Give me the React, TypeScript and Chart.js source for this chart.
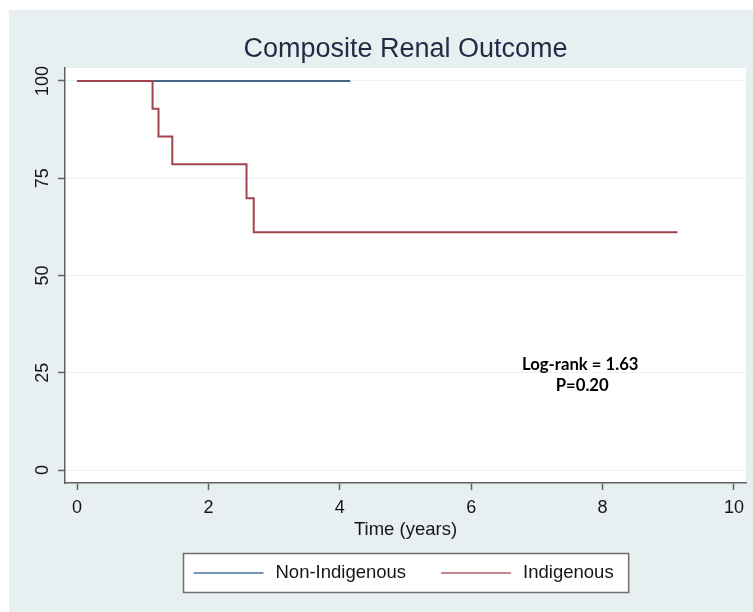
import React, { useEffect, useRef } from "react";
import { Chart, registerables } from "chart.js";

Chart.register(...registerables);

// ---- data ----
const seriesNames = ["Non-Indigenous", "Indigenous"];
const nonIndigenousTime = [0, 4.16];
const nonIndigenousSurv = [100, 100];
const indigenousTime = [0, 1.15, 1.24, 1.45, 2.58, 2.69, 9.14];
const indigenousSurv = [100, 92.86, 85.71, 78.57, 69.84, 61.11, 61.11];
const xTicks = [0, 2, 4, 6, 8, 10];
const yTicks = [0, 25, 50, 75, 100];
const titleText = "Composite Renal Outcome";
const xTitleText = "Time (years)";
const annotationLines = ["Log-rank = 1.63", "P=0.20"];
const annotationX = [7.66, 7.69];
const annotationY = [27.2, 21.6];

// ---- styles ----
const FONT = "'Liberation Sans', Arial, Helvetica, sans-serif";
const BG = "#e8eff1";
const AXIS = "#626262";
const BLUE = "#46658a";
const RED = "#a0444e";
const LEG_BLUE = "#7893b1";
const LEG_RED = "#c3848b";

const toPoints = (xs: number[], ys: number[]) => xs.map((x, i) => ({ x, y: ys[i] }));

const decorPlugin = {
  id: "decor",
  beforeDraw(chart: any) {
    const { ctx, chartArea: a, width, height } = chart;
    ctx.save();
    ctx.fillStyle = "#ffffff";
    ctx.fillRect(0, 0, width, height);
    ctx.fillStyle = BG;
    ctx.fillRect(9, 10, width - 9, height - 10);
    ctx.fillStyle = "#ffffff";
    ctx.fillRect(a.left, a.top, a.right - a.left, a.bottom - a.top);
    ctx.restore();
  },
  afterDraw(chart: any) {
    const { ctx, chartArea: a, scales } = chart;
    const cx = (a.left + a.right) / 2;
    ctx.save();
    // title
    ctx.fillStyle = "#1f2c45";
    ctx.font = `27px ${FONT}`;
    ctx.textAlign = "center";
    ctx.textBaseline = "alphabetic";
    ctx.fillText(titleText, cx, a.top - 11);

    // x axis title
    ctx.fillStyle = "#151515";
    ctx.font = `18.5px ${FONT}`;
    ctx.textBaseline = "middle";
    ctx.fillText(xTitleText, cx, a.bottom + 47);

    // legend
    const ds = chart.data.datasets;
    const legColors = [LEG_BLUE, LEG_RED];
    ctx.font = `18.5px ${FONT}`;
    const lineLen = 70;
    const gap = 12;
    const itemGap = 35;
    const pad = 10;
    const w1 = ctx.measureText(ds[0].label).width;
    const w2 = ctx.measureText(ds[1].label).width;
    const boxW = pad + lineLen + gap + w1 + itemGap + lineLen + gap + w2 + pad + 5;
    const boxH = 39;
    const boxX = Math.round(cx - boxW / 2) + 0.5;
    const boxY = a.bottom + 70.5;
    ctx.fillStyle = "#ffffff";
    ctx.fillRect(boxX, boxY, boxW, boxH);
    ctx.strokeStyle = "#6e6e6e";
    ctx.lineWidth = 1.5;
    ctx.strokeRect(boxX, boxY, boxW, boxH);
    const my = boxY + boxH / 2;
    let x = boxX + pad;
    [0, 1].forEach((i) => {
      ctx.strokeStyle = legColors[i];
      ctx.lineWidth = 2;
      ctx.beginPath();
      ctx.moveTo(x, my);
      ctx.lineTo(x + lineLen, my);
      ctx.stroke();
      x += lineLen + gap;
      ctx.fillStyle = "#151515";
      ctx.textAlign = "left";
      ctx.textBaseline = "middle";
      ctx.fillText(ds[i].label, x, my);
      x += (i === 0 ? w1 : w2) + itemGap;
    });

    // annotation
    ctx.fillStyle = "#000000";
    ctx.font = `bold 16.7px Lato, 'Open Sans', sans-serif`;
    ctx.textAlign = "center";
    ctx.textBaseline = "middle";
    annotationLines.forEach((t, i) => {
      ctx.fillText(t, scales.x.getPixelForValue(annotationX[i]), scales.y.getPixelForValue(annotationY[i]));
    });
    ctx.restore();
  },
};

export default function App() {
  const ref = useRef<HTMLCanvasElement | null>(null);
  useEffect(() => {
    if (!ref.current) return;
    const tickFont = { family: FONT, size: 18 };
    const chart = new Chart(ref.current, {
      type: "line",
      data: {
        datasets: [
          {
            label: seriesNames[0],
            data: toPoints(nonIndigenousTime, nonIndigenousSurv),
            borderColor: BLUE,
            borderWidth: 2,
            pointRadius: 0,
            stepped: true,
            fill: false,
            order: 1,
          },
          {
            label: seriesNames[1],
            data: toPoints(indigenousTime, indigenousSurv),
            borderColor: RED,
            borderWidth: 2,
            pointRadius: 0,
            stepped: true,
            fill: false,
            order: 0,
          },
        ],
      },
      options: {
        responsive: false,
        animation: false,
        layout: { padding: { top: 68, right: 7, left: 0, bottom: 0 } },
        plugins: {
          legend: { display: false },
          tooltip: { enabled: false },
          title: { display: false },
        },
        scales: {
          x: {
            type: "linear",
            min: -0.183,
            max: 10.183,
            afterBuildTicks: (s: any) => {
              s.ticks = xTicks.map((v) => ({ value: v }));
            },
            afterFit: (s: any) => {
              s.height = 129;
            },
            ticks: { padding: 7, maxRotation: 0, minRotation: 0, font: tickFont, color: "#151515" },
            grid: { drawOnChartArea: false, drawTicks: true, tickLength: 7, tickColor: AXIS, tickWidth: 1.5 },
            border: { display: true, color: AXIS, width: 1.5 },
          },
          y: {
            type: "linear",
            min: -3.34,
            max: 103.34,
            afterBuildTicks: (s: any) => {
              s.ticks = yTicks.map((v) => ({ value: v }));
            },
            afterFit: (s: any) => {
              s.width = 65;
            },
            ticks: {
              padding: 0,
              minRotation: 90,
              maxRotation: 90,
              crossAlign: "center",
              font: tickFont,
              color: "#151515",
            },
            grid: { color: "#ecf1f3", lineWidth: 1, drawTicks: true, tickLength: 7, tickColor: AXIS, tickWidth: 1.5 },
            border: { display: true, color: AXIS, width: 1.5 },
          },
        },
      },
      plugins: [decorPlugin],
    } as any);
    return () => chart.destroy();
  }, []);
  return (
    <div style={{ position: "absolute", left: 0, top: 0, width: 753, height: 612 }}>
      <canvas ref={ref} width={753} height={612} />
    </div>
  );
}
